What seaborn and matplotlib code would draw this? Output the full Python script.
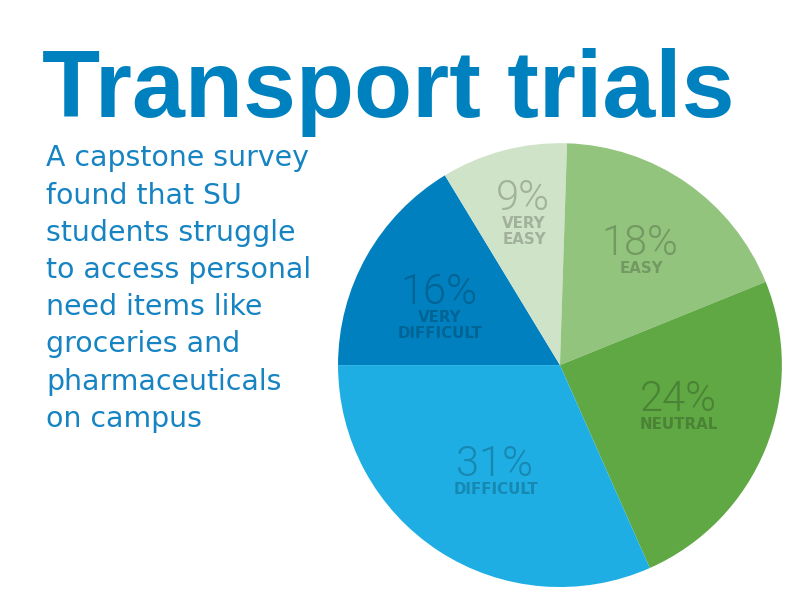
import matplotlib
matplotlib.use("Agg")
import matplotlib.pyplot as plt
import matplotlib.colors as mcolors
import matplotlib.transforms as mtransforms
import seaborn as sns
import numpy as np

# ---- data ----
categories = ["Very difficult", "Very easy", "Easy", "Neutral", "Difficult"]
values = [16, 9, 18, 24, 31]
pct_labels = ["16%", "9%", "18%", "24%", "31%"]
cat_labels = ["VERY\nDIFFICULT", "VERY\nEASY", "EASY", "NEUTRAL", "DIFFICULT"]
title = "Transport trials"
subtitle_lines = ["A capstone survey", "found that SU", "students struggle",
                  "to access personal", "need items like", "groceries and",
                  "pharmaceuticals", "on campus"]

# ---- style ----
slice_colors = ["#0080BF", "#CFE3C8", "#93C47D", "#5FA844", "#1EAEE3"]
label_pos = [(-0.545, 0.338), (-0.167, 0.761), (0.360, 0.559), (0.532, -0.144), (-0.293, -0.437)]
blue = "#0081BF"

sns.set_theme(style="white")
plt.rcParams["font.family"] = ["DejaVu Sans"]

fig = plt.figure(figsize=(8.1, 6.08), dpi=100)
fig.patch.set_facecolor("white")

ax = fig.add_axes([0.4173, 0.0345, 0.548, 0.730])
wedges, _ = ax.pie(values, colors=slice_colors, startangle=180, counterclock=False,
                   radius=1.0, wedgeprops=dict(linewidth=0))
ax.set_xlim(-1, 1)
ax.set_ylim(-1, 1)
ax.set_aspect("equal")
ax.axis("off")

def darken(c, f=0.78):
    r, g, b = mcolors.to_rgb(c)
    return (r * f, g * f, b * f)

def off(dy):
    return mtransforms.offset_copy(ax.transData, fig=fig, x=0, y=-dy, units="dots")

for (x, y), p, lab, col in zip(label_pos, pct_labels, cat_labels, slice_colors):
    tc = darken(col)
    ax.text(x, y, p, ha="center", va="baseline", fontsize=30, fontweight=300,
            color=tc, family=["Roboto", "DejaVu Sans"], transform=off(14))
    ax.text(x + 0.005, y, lab, ha="center", va="top", fontsize=10.8,
            fontweight="bold", color=tc, family=["DejaVu Sans"], linespacing=1.12,
            multialignment="center", transform=off(19.6))

fig.text(42 / 810, 1 - 117 / 608, title, ha="left", va="baseline",
         fontsize=68.5, fontweight="bold", color=blue,
         family=["Liberation Sans", "DejaVu Sans"])

for i, line in enumerate(subtitle_lines):
    fig.text(46 / 810, 1 - (166.5 + i * 37.2) / 608, line, ha="left", va="baseline",
             fontsize=20.4, color="#1683C3", family=["DejaVu Sans"])

fig.savefig("out.png", dpi=100, facecolor="white")
